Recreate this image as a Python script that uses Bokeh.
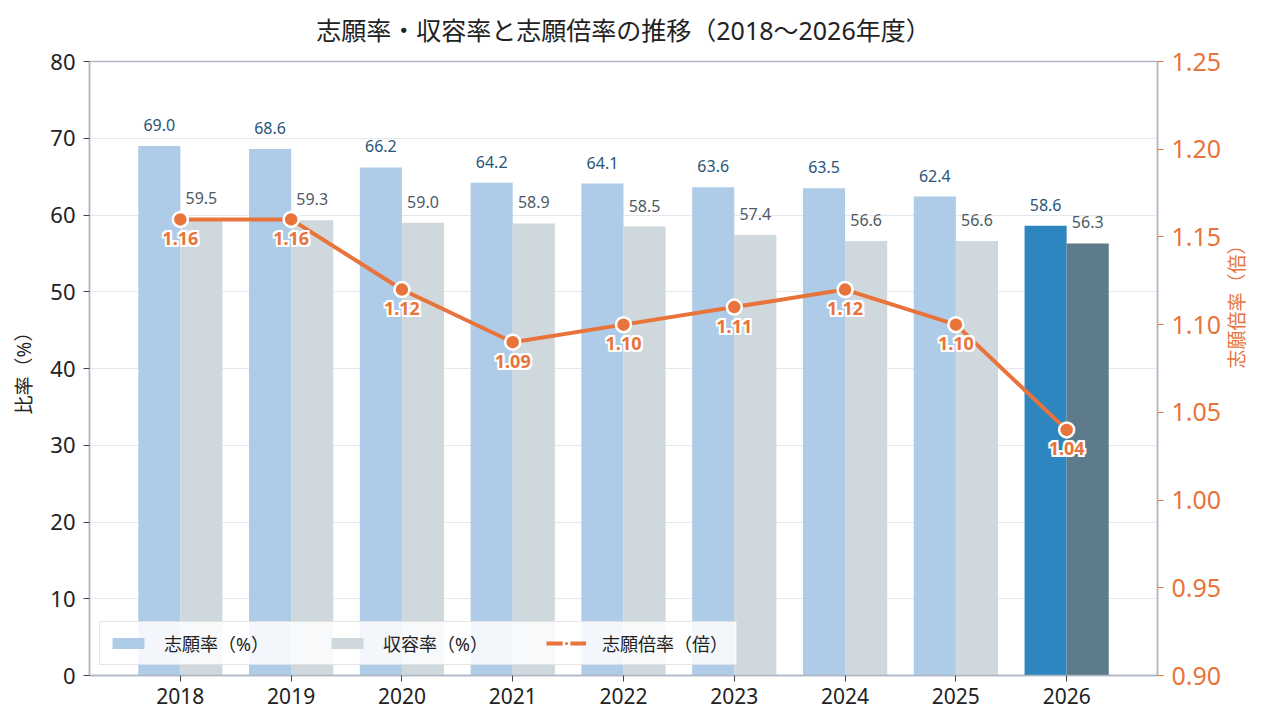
import math
from bokeh.plotting import figure
from bokeh.models import (ColumnDataSource, LinearAxis, Range1d, FixedTicker,
                          Legend, LegendItem, NumeralTickFormatter)
from bokeh.core.properties import value
from bokeh.embed import file_html
from bokeh.resources import INLINE

years = ["2018", "2019", "2020", "2021", "2022", "2023", "2024", "2025", "2026"]
apply_rate = [69.0, 68.6, 66.2, 64.2, 64.1, 63.6, 63.5, 62.4, 58.6]
admit_rate = [59.5, 59.3, 59.0, 58.9, 58.5, 57.4, 56.6, 56.6, 56.3]
ratio = [1.16, 1.16, 1.12, 1.09, 1.10, 1.11, 1.12, 1.10, 1.04]
ratio_ticks = [0.90, 0.95, 1.00, 1.05, 1.10, 1.15, 1.20, 1.25]

FONT = "Noto Sans, Noto Sans CJK JP"
ORANGE = "#e8743b"
AXIS_GREY = "#aeb8c4"
BAR_W = 0.38

idx = list(range(len(years)))
last = len(years) - 1
blue_cols = ["#2e86c1" if i == last else "#aecbe7" for i in idx]
grey_cols = ["#5d7b8a" if i == last else "#cfd8dd" for i in idx]

src = ColumnDataSource(dict(
    x=idx,
    xa=[i - BAR_W / 2 for i in idx],
    xb=[i + BAR_W / 2 for i in idx],
    apply=apply_rate,
    admit=admit_rate,
    ratio=ratio,
    apply_txt=[f"{v:.1f}" for v in apply_rate],
    admit_txt=[f"{v:.1f}" for v in admit_rate],
    ratio_txt=[f"{v:.2f}" for v in ratio],
    bcol=blue_cols,
    gcol=grey_cols,
))

p = figure(width=1268, height=728, output_backend="svg", toolbar_location=None,
           x_range=Range1d(-0.82, 8.82), y_range=Range1d(0, 80),
           title="志願率・収容率と志願倍率の推移（2018〜2026年度）",
           min_border_left=89, min_border_right=111, min_border_top=61,
           min_border_bottom=53)
p.extra_y_ranges = {"ratio": Range1d(ratio_ticks[0], ratio_ticks[-1])}

p.title.align = "center"
p.title.vertical_align = "top"
p.title.text_font = FONT
p.title.text_font_size = "25px"
p.title.text_font_style = "normal"
p.title.text_color = "#222222"
p.title.standoff = 25

p.outline_line_color = AXIS_GREY
p.outline_line_width = 1.5
p.background_fill_color = "white"
p.border_fill_color = "white"

p.xgrid.grid_line_color = None
p.ygrid.grid_line_color = "#e4e8ee"
p.ygrid.grid_line_width = 1.2

# bottom axis
xa = p.xaxis[0]
xa.ticker = FixedTicker(ticks=idx)
xa.major_label_overrides = {i: y for i, y in enumerate(years)}
xa.major_label_text_font = FONT
xa.major_label_text_font_size = "21px"
xa.major_label_text_color = "#222222"
xa.major_label_standoff = 6
xa.axis_line_color = AXIS_GREY
xa.axis_line_width = 1.5
xa.major_tick_line_color = "#444444"
xa.major_tick_in = 0
xa.major_tick_out = 6
xa.minor_tick_line_color = None

# left axis
ya = p.yaxis[0]
ya.ticker = FixedTicker(ticks=list(range(0, 81, 10)))
ya.axis_label = "比率（%）"
ya.axis_label_text_font = FONT
ya.axis_label_text_font_size = "19px"
ya.axis_label_text_font_style = "normal"
ya.axis_label_text_color = "#222222"
ya.axis_label_standoff = 10
ya.major_label_text_font = FONT
ya.major_label_text_font_size = "22px"
ya.major_label_text_color = "#222222"
ya.major_label_standoff = 8
ya.axis_line_color = AXIS_GREY
ya.axis_line_width = 1.5
ya.major_tick_line_color = "#444444"
ya.major_tick_in = 0
ya.major_tick_out = 6
ya.minor_tick_line_color = None

# right axis for the ratio
ra = LinearAxis(y_range_name="ratio", ticker=FixedTicker(ticks=ratio_ticks),
                formatter=NumeralTickFormatter(format="0.00"))
ra.major_label_text_font = FONT
ra.major_label_text_font_size = "25px"
ra.major_label_text_color = ORANGE
ra.major_label_standoff = 8
ra.axis_line_color = AXIS_GREY
ra.axis_line_width = 1.5
ra.major_tick_line_color = ORANGE
ra.major_tick_in = 0
ra.major_tick_out = 6
ra.minor_tick_line_color = None
p.add_layout(ra, "right")

# bare companion axis that only carries the ratio title, read bottom to top;
# its bounds set where the title starts
rt = LinearAxis(y_range_name="ratio", ticker=FixedTicker(ticks=[]),
                bounds=(0.90, 1.158))
rt.axis_label = "志願倍率（倍）"
rt.axis_label_orientation = math.pi / 2
rt.axis_label_text_font = FONT
rt.axis_label_text_font_size = "19px"
rt.axis_label_text_font_style = "normal"
rt.axis_label_text_color = ORANGE
rt.axis_label_standoff = 12
rt.axis_line_color = None
rt.major_tick_line_color = None
rt.minor_tick_line_color = None
rt.major_label_text_font_size = "0px"
p.add_layout(rt, "right")

# bars
r_apply = p.vbar(x="xa", top="apply", width=BAR_W, source=src,
                 fill_color="bcol", line_color=None)
r_admit = p.vbar(x="xb", top="admit", width=BAR_W, source=src,
                 fill_color="gcol", line_color=None)

p.text(x="xa", y="apply", text="apply_txt", source=src, y_offset=-15,
       text_align="center", text_baseline="bottom",
       text_font=value(FONT), text_font_size="16px", text_color="#2a5478")
p.text(x="xb", y="admit", text="admit_txt", source=src, y_offset=-15,
       text_align="center", text_baseline="bottom",
       text_font=value(FONT), text_font_size="16px", text_color="#4d5a63")

# ratio line
r_line = p.line(x="x", y="ratio", source=src, y_range_name="ratio",
                line_color=ORANGE, line_width=4)
r_dot = p.scatter(x="x", y="ratio", source=src, y_range_name="ratio",
                  size=15, fill_color=ORANGE, line_color="white", line_width=2.5)

# ratio labels with a white halo underneath
LBL_DY = 19
for dx, dy in [(-2, 0), (2, 0), (0, -2), (0, 2), (-2, -2), (2, -2), (-2, 2), (2, 2)]:
    p.text(x="x", y="ratio", text="ratio_txt", source=src, y_range_name="ratio",
           x_offset=dx, y_offset=LBL_DY + dy, text_align="center",
           text_baseline="middle", text_font=value(FONT), text_font_size="18px",
           text_font_style="bold", text_color="white")
p.text(x="x", y="ratio", text="ratio_txt", source=src, y_range_name="ratio",
       y_offset=LBL_DY, text_align="center", text_baseline="middle",
       text_font=value(FONT), text_font_size="18px", text_font_style="bold",
       text_color=ORANGE)

legend = Legend(items=[
    LegendItem(label="志願率（%）", renderers=[r_apply]),
    LegendItem(label="収容率（%）", renderers=[r_admit]),
    LegendItem(label="志願倍率（倍）", renderers=[r_line, r_dot]),
], location="bottom_left", orientation="horizontal")
legend.label_text_font = FONT
legend.label_text_font_size = "18px"
legend.label_text_color = "#222222"
legend.glyph_width = 40
legend.glyph_height = 14
legend.label_standoff = 16
legend.spacing = 58
legend.padding = 8
legend.margin = 10
legend.border_line_color = "#cccccc"
legend.background_fill_color = "white"
legend.background_fill_alpha = 0.85
p.add_layout(legend)

open("out.html", "w").write(file_html(p, INLINE))
